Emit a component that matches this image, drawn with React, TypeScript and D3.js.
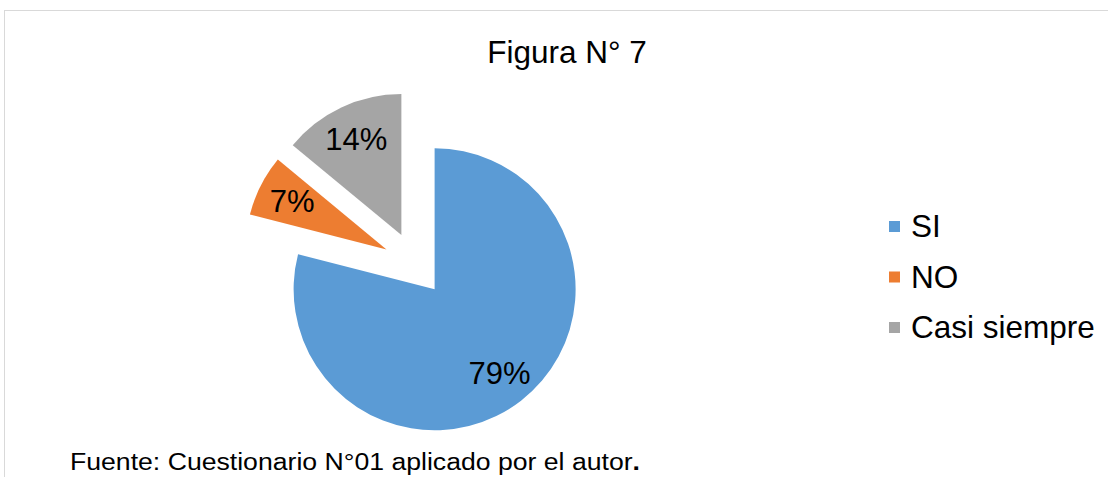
import React from "react";
import * as d3 from "d3";

const categories = ["SI", "NO", "Casi siempre"];
const values = [79, 7, 14];
const labels = ["79%", "7%", "14%"];
const colors = ["#5B9BD5", "#ED7D31", "#A5A5A5"];

const width = 1108;
const height = 477;
const font = "'Liberation Sans', Arial, sans-serif";

export default function App() {
  const cx = 415;
  const cy = 264;
  const radius = 141;
  const explode = 32;

  const pie = d3
    .pie<number>()
    .sort(null)
    .startAngle(0)
    .endAngle(2 * Math.PI)
    .value((d) => d);
  const slices = pie(values);

  const arc = d3.arc<d3.PieArcDatum<number>>().innerRadius(0).outerRadius(radius);
  const labelArc = d3
    .arc<d3.PieArcDatum<number>>()
    .innerRadius(radius * 0.75)
    .outerRadius(radius * 0.75);

  return (
    <svg
      width={width}
      height={height}
      style={{ position: "absolute", left: 0, top: 0, background: "white" }}
    >
      <rect x={4.5} y={10.5} width={width + 10} height={height + 10} fill="white" stroke="#d9d9d9" strokeWidth={1} />
      <text x={567} y={63} textAnchor="middle" fontFamily={font} fontSize={31.5} fill="#000">
        Figura N° 7
      </text>
      <g transform={`translate(${cx},${cy})`}>
        {slices.map((s, i) => {
          const mid = (s.startAngle + s.endAngle) / 2;
          const dx = Math.sin(mid) * explode;
          const dy = -Math.cos(mid) * explode;
          const [lx, ly] = labelArc.centroid(s);
          return (
            <g key={categories[i]} transform={`translate(${dx},${dy})`}>
              <path d={arc(s) || ""} fill={colors[i]} />
              <text
                x={lx}
                y={ly}
                dy="0.35em"
                textAnchor="middle"
                fontFamily={font}
                fontSize={31}
                fill="#000"
              >
                {labels[i]}
              </text>
            </g>
          );
        })}
      </g>
      <g transform="translate(889,0)">
        {categories.map((c, i) => (
          <g key={c} transform={`translate(0,${237 + i * 50.5})`}>
            <rect x={0} y={-16} width={11} height={11} fill={colors[i]} />
            <text x={22} y={0} fontFamily={font} fontSize={31.5} fill="#000">
              {c}
            </text>
          </g>
        ))}
      </g>
      <text
        x={70}
        y={470}
        fontFamily={font}
        fontSize={23}
        fill="#000"
        textLength={570}
        lengthAdjust="spacingAndGlyphs"
      >
        Fuente: Cuestionario N°01 aplicado por el autor<tspan fontWeight="bold">.</tspan>
      </text>
    </svg>
  );
}
